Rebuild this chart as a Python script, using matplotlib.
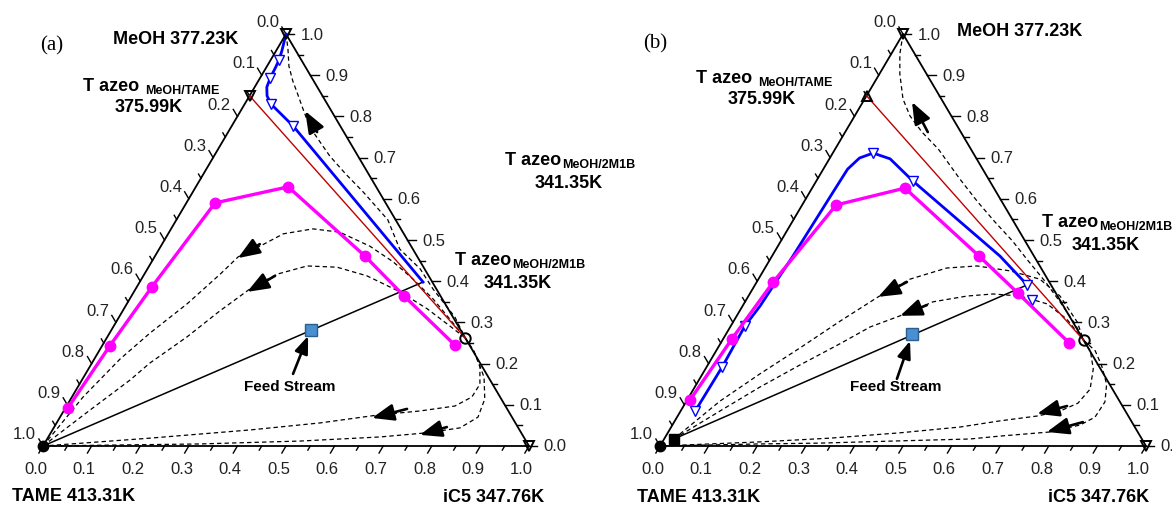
import numpy as np
import matplotlib.pyplot as plt

plt.rcParams['font.family'] = ['Liberation Sans', 'DejaVu Sans']

# all compositions are (iC5, MeOH) mole fractions, TAME = 1 - iC5 - MeOH

# ---------------- panel (a) ----------------
a_mag_ic5 = [0.005, 0.016, 0.031, 0.059, 0.190, 0.432, 0.561, 0.725]
a_mag_meoh = [0.092, 0.243, 0.386, 0.590, 0.629, 0.461, 0.364, 0.245]

a_blue_ic5 = [0.0, 0.012, 0.017, 0.019, 0.021, 0.025, 0.036, 0.054, 0.126, 0.583]
a_blue_meoh = [1.0, 0.959, 0.937, 0.920, 0.893, 0.871, 0.850, 0.830, 0.777, 0.398]
a_blue_marks = [2, 4, 7, 8]

a_red_ic5 = [0.0, 0.738]
a_red_meoh = [0.85, 0.262]

a_line_ic5 = [0.0, 0.583]
a_line_meoh = [0.0, 0.398]
a_feed = (0.411, 0.282)
a_azeo_circle = (0.738, 0.262)
a_side_azeo = (0.0, 0.85)

a_rc_ic5 = [
    [0.0, 0.022, 0.045, 0.071, 0.093, 0.126, 0.162, 0.201, 0.238, 0.293, 0.350, 0.435, 0.495, 0.561, 0.612, 0.691, 0.738],
    [0.0, 0.023, 0.053, 0.083, 0.124, 0.156, 0.172, 0.204, 0.237, 0.292, 0.351, 0.430, 0.497, 0.559, 0.624, 0.683, 0.738],
    [0.0, 0.053, 0.099, 0.119, 0.164, 0.200, 0.235, 0.273, 0.325, 0.388, 0.460, 0.548, 0.624, 0.692, 0.738],
    [0.738, 0.771, 0.803, 0.824, 0.823, 0.799, 0.733, 0.650, 0.542, 0.407, 0.210, 0.0],
    [0.738, 0.780, 0.824, 0.852, 0.860, 0.836, 0.774, 0.683, 0.523, 0.321, 0.0],
]
a_rc_meoh = [
    [1.0, 0.964, 0.922, 0.886, 0.859, 0.818, 0.774, 0.738, 0.704, 0.660, 0.617, 0.549, 0.478, 0.430, 0.381, 0.313, 0.262],
    [0.0, 0.119, 0.211, 0.274, 0.345, 0.417, 0.459, 0.485, 0.515, 0.527, 0.519, 0.485, 0.447, 0.405, 0.357, 0.308, 0.262],
    [0.0, 0.087, 0.160, 0.201, 0.265, 0.328, 0.381, 0.417, 0.437, 0.434, 0.413, 0.374, 0.333, 0.291, 0.262],
    [0.262, 0.231, 0.192, 0.150, 0.119, 0.097, 0.085, 0.075, 0.056, 0.039, 0.019, 0.0],
    [0.262, 0.221, 0.167, 0.114, 0.070, 0.044, 0.032, 0.022, 0.012, 0.005, 0.0],
]
a_arr_tail_ic5 = [0.183, 0.201, 0.271, 0.704, 0.808]
a_arr_tail_meoh = [0.762, 0.490, 0.413, 0.090, 0.046]
a_arr_tip_ic5 = [0.133, 0.173, 0.233, 0.643, 0.762]
a_arr_tip_meoh = [0.813, 0.456, 0.374, 0.068, 0.027]
a_feed_arrow = [(0.427, 0.175), (0.412, 0.267)]

# ---------------- panel (b) ----------------
b_mag_ic5 = [0.006, 0.018, 0.034, 0.070, 0.191, 0.426, 0.551, 0.717]
b_mag_meoh = [0.112, 0.260, 0.398, 0.585, 0.626, 0.461, 0.371, 0.250]

b_blue_ic5 = [0.030, 0.032, 0.029, 0.036, 0.043, 0.048, 0.050, 0.061, 0.083, 0.125, 0.199, 0.469, 0.560]
b_blue_meoh = [0.085, 0.192, 0.291, 0.340, 0.461, 0.617, 0.672, 0.699, 0.711, 0.697, 0.643, 0.461, 0.391]
b_blue_marks = [0, 1, 2, 8, 10, 12]
b_blue_extra = (0.588, 0.354)

b_red_ic5 = [0.0, 0.743]
b_red_meoh = [0.85, 0.257]

b_line_ic5 = [0.020, 0.560]
b_line_meoh = [0.017, 0.391]
b_feed = (0.383, 0.272)
b_bottoms = (0.020, 0.017)
b_azeo_circle = (0.743, 0.257)
b_side_azeo = (0.0, 0.85)

b_rc_ic5 = [
    [0.0, 0.018, 0.042, 0.079, 0.114, 0.158, 0.212, 0.293, 0.358, 0.417, 0.476, 0.531, 0.592, 0.648, 0.706, 0.743],
    [0.020, 0.069, 0.118, 0.169, 0.219, 0.268, 0.312, 0.374, 0.434, 0.508, 0.579, 0.641, 0.708, 0.743],
    [0.020, 0.081, 0.134, 0.190, 0.246, 0.288, 0.336, 0.387, 0.450, 0.501, 0.559, 0.624, 0.683, 0.743],
    [0.743, 0.770, 0.798, 0.816, 0.808, 0.781, 0.741, 0.669, 0.594, 0.478, 0.340, 0.201, 0.0],
    [0.743, 0.780, 0.812, 0.844, 0.862, 0.860, 0.839, 0.785, 0.687, 0.629, 0.473, 0.326, 0.203, 0.0],
]
b_rc_meoh = [
    [1.0, 0.951, 0.903, 0.842, 0.801, 0.762, 0.721, 0.648, 0.592, 0.544, 0.498, 0.451, 0.400, 0.350, 0.296, 0.257],
    [0.017, 0.109, 0.175, 0.238, 0.303, 0.362, 0.405, 0.432, 0.437, 0.425, 0.405, 0.364, 0.301, 0.257],
    [0.017, 0.085, 0.143, 0.197, 0.248, 0.289, 0.316, 0.350, 0.364, 0.369, 0.364, 0.345, 0.308, 0.257],
    [0.257, 0.231, 0.187, 0.138, 0.104, 0.085, 0.073, 0.061, 0.046, 0.032, 0.019, 0.010, 0.0],
    [0.257, 0.231, 0.194, 0.150, 0.107, 0.070, 0.051, 0.034, 0.024, 0.017, 0.012, 0.007, 0.005, 0.0],
]
b_arr_tail_ic5 = [0.170, 0.309, 0.378, 0.789, 0.841]
b_arr_tail_meoh = [0.762, 0.398, 0.342, 0.097, 0.058]
b_arr_tip_ic5 = [0.101, 0.268, 0.336, 0.737, 0.779]
b_arr_tip_meoh = [0.835, 0.362, 0.316, 0.078, 0.034]
b_feed_arrow = [(0.406, 0.163), (0.387, 0.255)]

W, H = 1172, 510
h = np.sqrt(3) / 2
fig = plt.figure(figsize=(W / 100, H / 100), dpi=100)


def tern(ic5, meoh):
    ic5 = np.asarray(ic5, dtype=float)
    meoh = np.asarray(meoh, dtype=float)
    return ic5 + 0.5 * meoh, h * meoh


def make_panel(left_px, right_px, ox, oy):
    ax = fig.add_axes([left_px / W, 0, (right_px - left_px) / W, 1])
    sx = 486.0
    sy = 412.0 / h
    ax.set_xlim((left_px - ox) / sx, (right_px - ox) / sx)
    ax.set_ylim((oy - H) / sy, oy / sy)
    ax.axis('off')
    return ax


def frame(ax):
    vx = [0, 1, 0.5, 0]
    vy = [0, 0, h, 0]
    ax.plot(vx, vy, color='k', lw=1.3, zorder=3)
    for v in np.round(np.arange(0, 1.0001, 0.05), 2):
        major = abs(v * 10 - round(v * 10)) < 1e-6
        L = 0.017 if major else 0.010
        kw = dict(color='k', lw=1.0, zorder=3)
        # bottom axis (iC5)
        ax.plot([v, v - 0.5 * L], [0, -h * L], **kw)
        # right axis (MeOH)
        x0, y0 = 1 - 0.5 * v, h * v
        ax.plot([x0, x0 + L], [y0, y0], **kw)
        # left axis (TAME)
        x1, y1 = 0.5 * (1 - v), h * (1 - v)
        ax.plot([x1, x1 - 0.5 * L], [y1, y1 + h * L], **kw)
        if major:
            lab = f'{v:.1f}'
            tk = dict(fontsize=12, color='#222222')
            ax.text(v - 0.015, -0.048, lab, ha='center', va='center', **tk)
            ax.text(x0 + 0.030, y0, lab, ha='left', va='center', **tk)
            ax.text(x1 - 0.014, y1 + 0.026, lab, ha='right', va='center', **tk)


def arrow(ax, tail, tip, ms=19):
    ax.annotate('', xy=tern(*tip), xytext=tern(*tail),
                arrowprops=dict(arrowstyle='-|>,head_length=0.7,head_width=0.27',
                                color='k', lw=1.9, mutation_scale=ms,
                                shrinkA=0, shrinkB=0), zorder=6)


def panel(ax, mag, blue, marks, red, line, feed, rc_ic5, rc_meoh,
          tails, tips, feed_arrow, side_pt, side_marker, circ):
    frame(ax)
    for ci, mi in zip(rc_ic5, rc_meoh):
        x, y = tern(ci, mi)
        ax.plot(x, y, color='k', lw=0.9, dashes=(3.5, 2.5), zorder=2)
    for tl, tp in zip(zip(*tails), zip(*tips)):
        arrow(ax, tl, tp)
    x, y = tern(*line)
    ax.plot(x, y, color='k', lw=1.1, zorder=3)
    x, y = tern(*red)
    ax.plot(x, y, color='#c00000', lw=1.0, zorder=3)
    x, y = tern(*blue)
    ax.plot(x, y, color='#0000ff', lw=2.0, marker='v', markevery=marks, ms=6.5,
            mfc='white', mec='#0000ff', mew=1.0, zorder=4)
    x, y = tern(*mag)
    ax.plot(x, y, color='#ff00ff', lw=2.4, marker='o', ms=7.5, zorder=5)
    x, y = tern(*feed)
    ax.plot(x, y, 's', ms=8, mfc='#4a8fd0', mec='#2b5f8f', mew=1.0, zorder=6)
    arrow(ax, feed_arrow[0], feed_arrow[1], ms=15)
    # pure components and azeotropes
    mk = dict(mfc='none', mec='k', mew=1.4, ms=7.5, zorder=7)
    ax.plot(*tern(0.0, 1.0), 'v', **mk)
    ax.plot(*tern(1.0, 0.0), 'v', **mk)
    ax.plot(*tern(*side_pt), side_marker, **mk)
    ax.plot(*tern(*circ), 'o', **mk)
    ax.plot(*tern(0.0, 0.0), 'o', color='k', ms=7.5, zorder=7)


def ftext(x, y, s, **kw):
    kw.setdefault('fontsize', 13)
    kw.setdefault('fontweight', 'bold')
    kw.setdefault('va', 'center')
    return fig.text(x / W, 1 - y / H, s, **kw)


def azeo_label(x, y, sub, gap):
    t = ftext(x, y, 'T azeo', va='baseline')
    fig.axes[0].annotate(sub, xy=(1, 0), xycoords=t, xytext=(gap, 1),
                         textcoords='offset pixels', fontsize=9,
                         fontweight='bold', va='baseline', ha='left',
                         annotation_clip=False)


ax_a = make_panel(0, 586, 43, 447)
ax_b = make_panel(586, 1172, 660, 447)

panel(ax_a, (a_mag_ic5, a_mag_meoh), (a_blue_ic5, a_blue_meoh), a_blue_marks,
      (a_red_ic5, a_red_meoh), (a_line_ic5, a_line_meoh), a_feed,
      a_rc_ic5, a_rc_meoh, (a_arr_tail_ic5, a_arr_tail_meoh),
      (a_arr_tip_ic5, a_arr_tip_meoh), a_feed_arrow, a_side_azeo, 'v', a_azeo_circle)

panel(ax_b, (b_mag_ic5, b_mag_meoh), (b_blue_ic5, b_blue_meoh), b_blue_marks,
      (b_red_ic5, b_red_meoh), (b_line_ic5, b_line_meoh), b_feed,
      b_rc_ic5, b_rc_meoh, (b_arr_tail_ic5, b_arr_tail_meoh),
      (b_arr_tip_ic5, b_arr_tip_meoh), b_feed_arrow, b_side_azeo, '^', b_azeo_circle)
ax_b.plot(*tern(*b_blue_extra), 'v', ms=6.5, mfc='white', mec='#0000ff', mew=1.0, zorder=4)
ax_b.plot(*tern(*b_bottoms), 's', color='k', ms=7, zorder=7)

# ---- labels (a) ----
ftext(40, 46, '(a)', fontsize=15, fontweight='normal', family='Liberation Serif')
ftext(113, 40, 'MeOH 377.23K')
azeo_label(83, 91, 'MeOH/TAME', 6)
ftext(115, 108, '375.99K')
azeo_label(505, 165, 'MeOH/2M1B', 1)
ftext(535, 183, '341.35K')
azeo_label(455, 265, 'MeOH/2M1B', 1)
ftext(484, 284, '341.35K')
ftext(290, 387, 'Feed Stream', fontsize=11, ha='center')
ftext(12, 497, 'TAME 413.31K')
ftext(443, 498, 'iC5 347.76K')

# ---- labels (b) ----
ftext(643, 44, '(b)', fontsize=15, fontweight='normal', family='Liberation Serif')
azeo_label(696, 83, 'MeOH/TAME', 6)
ftext(728, 100, '375.99K')
ftext(957, 32, 'MeOH 377.23K')
azeo_label(1042, 227, 'MeOH/2M1B', 1)
ftext(1072, 245, '341.35K')
ftext(896, 387, 'Feed Stream', fontsize=11, ha='center')
ftext(637, 498, 'TAME 413.31K')
ftext(1048, 498, 'iC5 347.76K')

fig.savefig('out.png', dpi=100)
